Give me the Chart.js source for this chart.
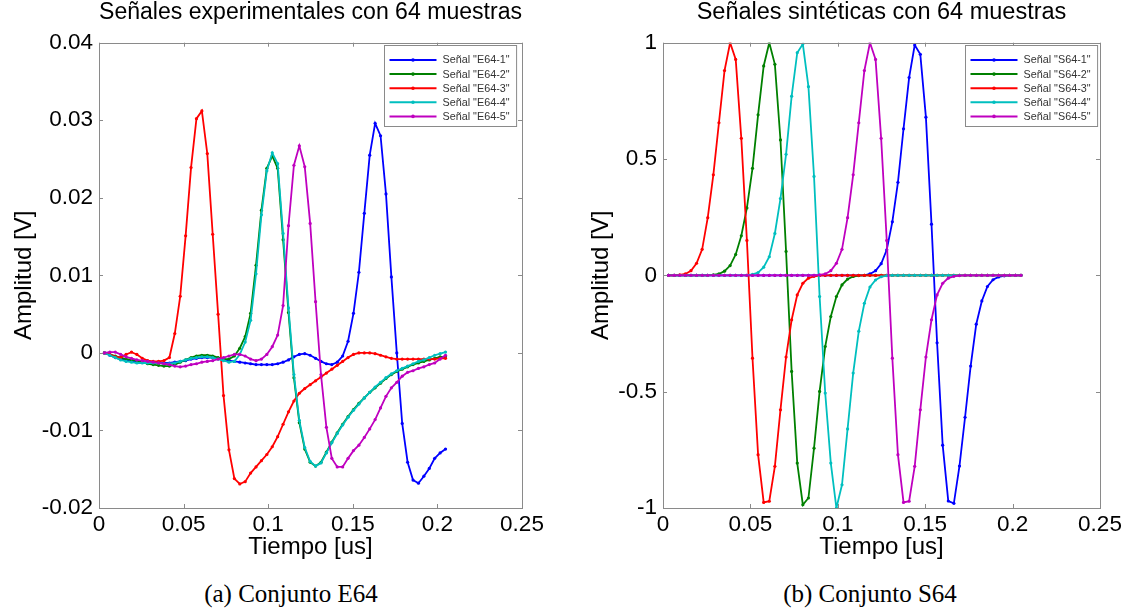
<!DOCTYPE html>
<html lang="es">
<head>
<meta charset="utf-8">
<title>Conjuntos E64 y S64</title>
<script src="https://cdn.jsdelivr.net/npm/chart.js@4.4.1/dist/chart.umd.min.js"></script>
<style>
	body { margin: 0; background: #fff; }
	#lienzo { position: relative; width: 1134px; height: 614px; overflow: hidden; }
	.grafica { position: absolute; top: 0; width: 567px; height: 570px; }
	.pie {
		position: absolute;
		top: 580px;
		line-height: 28px;
		font-family: 'Liberation Serif', 'Times New Roman', serif;
		font-size: 25px;
		color: #000;
		transform: translateX(-50%);
		white-space: nowrap;
	}
</style>
</head>
<body>
<div id="lienzo">
	<div class="grafica" style="left:0"><canvas id="grafica-e64"></canvas></div>
	<div class="grafica" style="left:567px"><canvas id="grafica-s64"></canvas></div>
	<div class="pie" style="left:291px">(a) Conjunto E64</div>
	<div class="pie" style="left:870px">(b) Conjunto S64</div>
</div>
<script>
// instantes de muestreo [us], 64 muestras
const tiempo = [
	0.0032, 0.0064, 0.0096, 0.0128, 0.016, 0.0192, 0.0224, 0.0256, 0.0288, 0.032,
	0.0352, 0.0384, 0.0416, 0.0448, 0.048, 0.0512, 0.0544, 0.0576, 0.0608, 0.064,
	0.0672, 0.0704, 0.0736, 0.0768, 0.08, 0.0832, 0.0864, 0.0896, 0.0928, 0.096,
	0.0992, 0.1024, 0.1056, 0.1088, 0.112, 0.1152, 0.1184, 0.1216, 0.1248, 0.128,
	0.1312, 0.1344, 0.1376, 0.1408, 0.144, 0.1472, 0.1504, 0.1536, 0.1568, 0.16,
	0.1632, 0.1664, 0.1696, 0.1728, 0.176, 0.1792, 0.1824, 0.1856, 0.1888, 0.192,
	0.1952, 0.1984, 0.2016, 0.2048,
]

// conjunto E64 (señales experimentales) [V]
const e64_1 = [
	0, -0.0003, -0.0006, -0.0008, -0.001, -0.0011, -0.0012, -0.0012, -0.0013, -0.0013,
	-0.0013, -0.0013, -0.0013, -0.0012, -0.0011, -0.001, -0.0008, -0.0007, -0.0006, -0.0006,
	-0.0006, -0.0007, -0.0008, -0.001, -0.0011, -0.0012, -0.0013, -0.0014, -0.0015, -0.0015,
	-0.0015, -0.0015, -0.0014, -0.0012, -0.0009, -0.0005, -0.0002, -0.0001, -0.0003, -0.0007,
	-0.0011, -0.0014, -0.0015, -0.0012, -0.0004, 0.0015, 0.0051, 0.0104, 0.018, 0.0255,
	0.0296, 0.028, 0.0205, 0.0098, 0, -0.0091, -0.0141, -0.0164, -0.0168, -0.0159,
	-0.0149, -0.0136, -0.0129, -0.0124,
]
const e64_2 = [
	0, -0.0002, -0.0004, -0.0006, -0.0008, -0.0009, -0.001, -0.0012, -0.0014, -0.0015,
	-0.0016, -0.0017, -0.0017, -0.0015, -0.0012, -0.0009, -0.0006, -0.0004, -0.0003, -0.0003,
	-0.0004, -0.0006, -0.0008, -0.0008, -0.0004, 0.0006, 0.0021, 0.0051, 0.0113, 0.0184,
	0.0238, 0.0254, 0.0238, 0.0146, 0.0052, -0.0032, -0.009, -0.0124, -0.0141, -0.0146,
	-0.0141, -0.0128, -0.0115, -0.0103, -0.0092, -0.0082, -0.0073, -0.0065, -0.0058, -0.0051,
	-0.0045, -0.0039, -0.0033, -0.0028, -0.0024, -0.0021, -0.0018, -0.0015, -0.0013, -0.0011,
	-0.0009, -0.0007, -0.0005, -0.0005,
]
const e64_3 = [
	0, -0.0002, -0.0005, -0.0006, -0.0002, 0.0001, -0.0002, -0.0007, -0.001, -0.0011,
	-0.0011, -0.001, -0.0006, 0.0025, 0.0073, 0.0151, 0.0239, 0.0302, 0.0312, 0.0257,
	0.0153, 0.005, -0.0055, -0.0125, -0.0162, -0.0169, -0.0166, -0.0155, -0.0147, -0.0139,
	-0.0131, -0.0121, -0.0108, -0.0092, -0.0076, -0.0062, -0.0052, -0.0046, -0.0041, -0.0036,
	-0.0031, -0.0026, -0.0021, -0.0016, -0.0011, -0.0006, -0.0002, 0, 0, 0,
	-0.0001, -0.0003, -0.0005, -0.0007, -0.0008, -0.0008, -0.0008, -0.0008, -0.0008, -0.0008,
	-0.0008, -0.0008, -0.0007, -0.0007,
]
const e64_4 = [
	0, -0.0003, -0.0006, -0.0009, -0.0011, -0.0012, -0.0013, -0.0013, -0.0013, -0.0013,
	-0.0013, -0.0014, -0.0014, -0.0013, -0.0011, -0.0009, -0.0007, -0.0006, -0.0005, -0.0005,
	-0.0006, -0.0008, -0.001, -0.0012, -0.0011, -0.0002, 0.0014, 0.0042, 0.0102, 0.0178,
	0.0235, 0.0258, 0.0244, 0.0154, 0.0058, -0.0028, -0.0087, -0.0122, -0.014, -0.0146,
	-0.0142, -0.0129, -0.0116, -0.0104, -0.0093, -0.0083, -0.0074, -0.0066, -0.0058, -0.0051,
	-0.0044, -0.0038, -0.0032, -0.0027, -0.0023, -0.002, -0.0017, -0.0014, -0.0011, -0.0009,
	-0.0006, -0.0003, -0.0001, 0.0001,
]
const e64_5 = [
	0, 0.0001, 0.0001, -0.0002, -0.0005, -0.0007, -0.0009, -0.001, -0.0011, -0.0012,
	-0.0013, -0.0014, -0.0015, -0.0017, -0.0018, -0.0017, -0.0015, -0.0014, -0.0012, -0.0011,
	-0.001, -0.0008, -0.0006, -0.0004, -0.0002, -0.0002, -0.0004, -0.0008, -0.001, -0.0008,
	-0.0002, 0.0008, 0.0023, 0.0061, 0.0164, 0.0242, 0.0267, 0.024, 0.0167, 0.0066,
	-0.0028, -0.0096, -0.0136, -0.0147, -0.0147, -0.0136, -0.0126, -0.0119, -0.0109, -0.0098,
	-0.0086, -0.0071, -0.0056, -0.0045, -0.0038, -0.003, -0.0025, -0.0023, -0.002, -0.0018,
	-0.0015, -0.0013, -0.0008, -0.0003,
]

// conjunto S64 (señales sintéticas) [V]
const s64_1 = [
	0, 0, 0, 0, 0, 0, 0, 0, 0, 0,
	0, 0, 0, 0, 0, 0, 0, 0, 0, 0,
	0, 0, 0, 0, 0, 0, 0, 0, 0, 0,
	0, 0, 0, 0, 0, 0, 0.006, 0.02, 0.05, 0.11,
	0.23, 0.4, 0.63, 0.85, 0.99, 0.95, 0.68, 0.22, -0.29, -0.73,
	-0.97, -0.98, -0.82, -0.61, -0.39, -0.21, -0.11, -0.048, -0.019, -0.007,
	-0.002, 0, 0, 0,
]
const s64_2 = [
	0, 0, 0, 0, 0, 0, 0, 0, 0.002, 0.006,
	0.018, 0.042, 0.09, 0.17, 0.29, 0.46, 0.69, 0.9, 1, 0.907,
	0.582, 0.103, -0.413, -0.807, -0.986, -0.957, -0.743, -0.499, -0.306, -0.177,
	-0.091, -0.041, -0.016, -0.005, -0.001, 0, 0, 0, 0, 0,
	0, 0, 0, 0, 0, 0, 0, 0, 0, 0,
	0, 0, 0, 0, 0, 0, 0, 0, 0, 0,
	0, 0, 0, 0,
]
const s64_3 = [
	0, 0, 0.002, 0.006, 0.02, 0.052, 0.112, 0.248, 0.432, 0.656,
	0.88, 1, 0.928, 0.589, 0.15, -0.356, -0.771, -0.976, -0.971, -0.821,
	-0.578, -0.351, -0.191, -0.084, -0.034, -0.012, -0.004, -0.001, 0, 0,
	0, 0, 0, 0, 0, 0, 0, 0, 0, 0,
	0, 0, 0, 0, 0, 0, 0, 0, 0, 0,
	0, 0, 0, 0, 0, 0, 0, 0, 0, 0,
	0, 0, 0, 0,
]
const s64_4 = [
	0, 0, 0, 0, 0, 0, 0, 0, 0, 0,
	0, 0, 0, 0, 0, 0.004, 0.012, 0.035, 0.08, 0.18,
	0.33, 0.52, 0.77, 0.957, 0.994, 0.811, 0.425, -0.091, -0.506, -0.807,
	-1, -0.9, -0.66, -0.42, -0.24, -0.12, -0.05, -0.02, -0.006, -0.001,
	0, 0, 0, 0, 0, 0, 0, 0, 0, 0,
	0, 0, 0, 0, 0, 0, 0, 0, 0, 0,
	0, 0, 0, 0,
]
const s64_5 = [
	0, 0, 0, 0, 0, 0, 0, 0, 0, 0,
	0, 0, 0, 0, 0, 0, 0, 0, 0, 0,
	0, 0, 0, 0, 0, 0, 0, 0.002, 0.006, 0.02,
	0.052, 0.112, 0.248, 0.432, 0.656, 0.88, 1, 0.928, 0.589, 0.15,
	-0.356, -0.771, -0.976, -0.971, -0.821, -0.578, -0.351, -0.191, -0.084, -0.034,
	-0.012, -0.004, -0.001, 0, 0, 0, 0, 0, 0, 0,
	0, 0, 0, 0,
]

const nombresE64 = ['Señal "E64-1"', 'Señal "E64-2"', 'Señal "E64-3"', 'Señal "E64-4"', 'Señal "E64-5"']
const nombresS64 = ['Señal "S64-1"', 'Señal "S64-2"', 'Señal "S64-3"', 'Señal "S64-4"', 'Señal "S64-5"']
const colores = ['rgb(0,0,255)', 'rgb(0,128,0)', 'rgb(255,0,0)', 'rgb(0,191,191)', 'rgb(191,0,191)']

Chart.defaults.font.family = '"Liberation Sans", Arial, Helvetica, sans-serif'
Chart.defaults.color = '#000'

const formatoTick = v => String(Number(v.toFixed(3)))

// caja y marcas hacia dentro, como en MATLAB
const marcoMatlab = {
	id: 'marcoMatlab',
	afterDatasetsDraw(chart) {
		const { ctx, chartArea: a, scales } = chart
		ctx.save()
		ctx.strokeStyle = '#8a8a8a'
		ctx.lineWidth = 1
		ctx.strokeRect(Math.round(a.left) + 0.5, Math.round(a.top) + 0.5, Math.round(a.width), Math.round(a.height))
		ctx.beginPath()
		scales.x.ticks.forEach(t => {
			const px = Math.round(scales.x.getPixelForValue(t.value)) + 0.5
			ctx.moveTo(px, a.bottom)
			ctx.lineTo(px, a.bottom - 4)
			ctx.moveTo(px, a.top)
			ctx.lineTo(px, a.top + 4)
		})
		scales.y.ticks.forEach(t => {
			const py = Math.round(scales.y.getPixelForValue(t.value)) + 0.5
			ctx.moveTo(a.left, py)
			ctx.lineTo(a.left + 4, py)
			ctx.moveTo(a.right, py)
			ctx.lineTo(a.right - 4, py)
		})
		ctx.stroke()
		ctx.restore()
	},
}

const leyendaMatlab = {
	id: 'leyendaMatlab',
	afterDraw(chart) {
		const { ctx, chartArea: a } = chart
		const series = chart.data.datasets
		const margen = chart.options.plugins.leyendaMatlab.margen
		ctx.save()
		ctx.font = '10.8px "Liberation Sans", Arial, sans-serif'
		const anchoTexto = Math.max(...series.map(d => ctx.measureText(d.label).width))
		const ancho = 58 + anchoTexto + 7
		const alto = 81
		const x0 = Math.round(a.right - margen - ancho) + 0.5
		const y0 = Math.round(a.top + 2.5) + 0.5
		ctx.fillStyle = '#fff'
		ctx.fillRect(x0, y0, ancho, alto)
		ctx.strokeStyle = '#8a8a8a'
		ctx.lineWidth = 1
		ctx.strokeRect(x0, y0, ancho, alto)
		series.forEach((d, i) => {
			const yy = y0 + 14.5 + i * 14.1
			ctx.strokeStyle = d.borderColor
			ctx.lineWidth = 2
			ctx.beginPath()
			ctx.moveTo(x0 + 5, yy)
			ctx.lineTo(x0 + 52, yy)
			ctx.stroke()
			ctx.fillStyle = d.borderColor
			ctx.beginPath()
			ctx.arc(x0 + 28.5, yy, 1.8, 0, Math.PI * 2)
			ctx.fill()
			ctx.fillStyle = '#333'
			ctx.textBaseline = 'middle'
			ctx.fillText(d.label, x0 + 58, yy + 0.5)
		})
		ctx.restore()
	},
}

function serie(nombre, valores, color, orden) {
	return {
		label: nombre,
		data: tiempo.map((t, i) => ({ x: t, y: valores[i] })),
		borderColor: color,
		backgroundColor: color,
		borderWidth: 1.8,
		pointRadius: 1.6,
		pointHoverRadius: 1.6,
		pointBorderWidth: 0,
		tension: 0,
		order: orden,
	}
}

function crearGrafica(id, titulo, nombres, valores, eje) {
	const datasets = valores.map((v, i) => serie(nombres[i], v, colores[i], valores.length - i))
	new Chart(document.getElementById(id), {
		type: 'line',
		data: { datasets },
		options: {
			responsive: true,
			maintainAspectRatio: false,
			animation: false,
			events: [],
			layout: { padding: { top: 0, left: 0, bottom: 0, right: eje.derecha } },
			plugins: {
				legend: { display: false },
				tooltip: { enabled: false },
				title: {
					display: true,
					text: titulo,
					fullSize: false,
					color: '#000',
					font: { size: 23.5, weight: 'normal', lineHeight: 1.1 },
					padding: { top: 0, bottom: 16.85 },
				},
				leyendaMatlab: { margen: eje.margenLeyenda },
			},
			scales: {
				x: {
					type: 'linear',
					min: 0,
					max: 0.25,
					afterFit: s => { s.height = 62 },
					grid: { display: false, drawTicks: false },
					border: { display: false },
					ticks: { stepSize: 0.05, padding: 3, font: { size: 22.5 }, callback: formatoTick },
					title: {
						display: true,
						text: 'Tiempo [us]',
						font: { size: 24 },
						padding: { top: 0, bottom: 8.6 },
					},
				},
				y: {
					min: eje.min,
					max: eje.max,
					afterFit: s => { s.width = eje.ancho },
					grid: { display: false, drawTicks: false },
					border: { display: false },
					ticks: { stepSize: eje.paso, padding: 6, font: { size: 22.5 }, callback: formatoTick },
					title: {
						display: true,
						text: 'Amplitud [V]',
						font: { size: 24 },
						padding: { top: eje.tituloY, bottom: 0 },
					},
				},
			},
		},
		plugins: [marcoMatlab, leyendaMatlab],
	})
}

crearGrafica('grafica-e64', 'Señales experimentales con 64 muestras', nombresE64,
	[e64_1, e64_2, e64_3, e64_4, e64_5],
	{ min: -0.02, max: 0.04, paso: 0.01, ancho: 99, derecha: 45, tituloY: 10.1, margenLeyenda: 6 })

crearGrafica('grafica-s64', 'Señales sintéticas con 64 muestras', nombresS64,
	[s64_1, s64_2, s64_3, s64_4, s64_5],
	{ min: -1, max: 1, paso: 0.5, ancho: 96, derecha: 34, tituloY: 19.6, margenLeyenda: 3 })
</script>
</body>
</html>
